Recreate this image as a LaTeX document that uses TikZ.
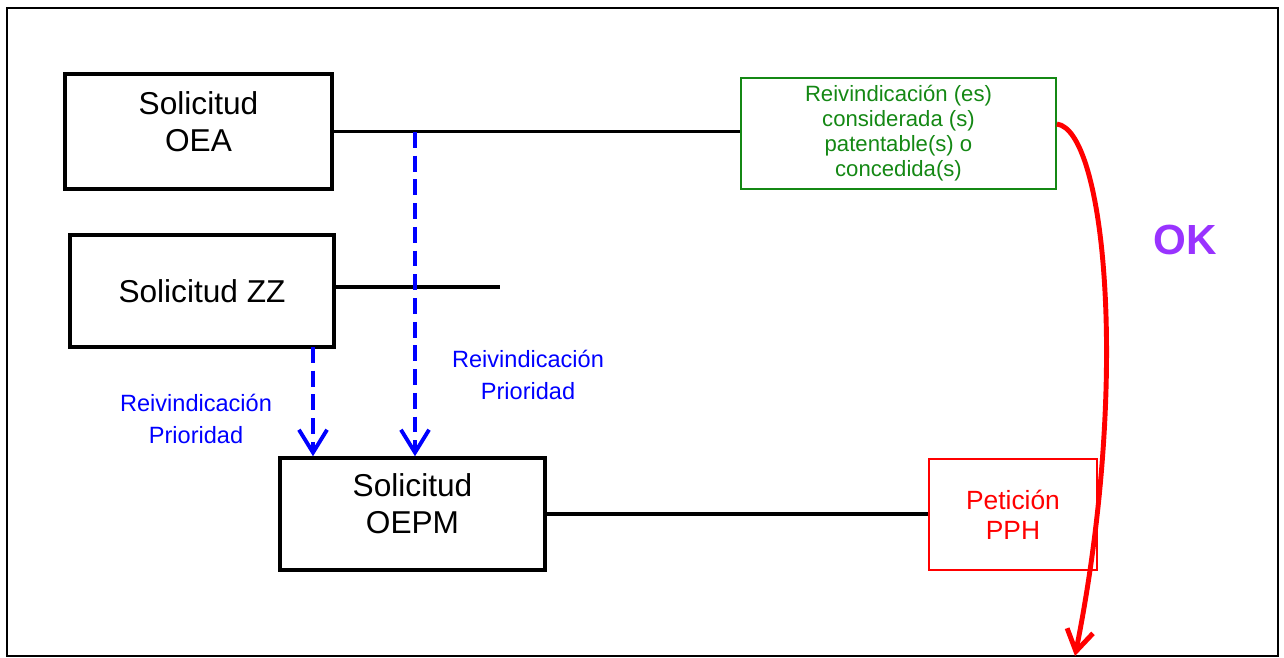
\documentclass[tikz,border=0pt]{standalone}
\usepackage{fontspec}
\setmainfont{Liberation Sans}
\usetikzlibrary{calc}
\usetikzlibrary{arrows.meta}
\definecolor{okpurple}{RGB}{153,51,255}
\definecolor{reigreen}{RGB}{20,136,20}
\tikzset{
    solbox/.style={draw, line width=2pt, inner sep=0pt},
    soltext/.style={align=center, inner sep=0pt, font=\fontsize{18}{21}\selectfont},
    conn/.style={line width=1.8pt},
    prio/.style={blue, line width=2.2pt, dash pattern=on 9pt off 4.5pt, -{Straight Barb[length=13pt, width=16pt]}},
    priotext/.style={blue, align=center, font=\fontsize{13.4}{18}\selectfont}
}

\begin{document}
\begin{tikzpicture}[x=0.02cm, y=-0.02cm]
\useasboundingbox (0,0) rectangle (1284,657);
\draw[line width=1.3pt] (7,8) rectangle (1278,656);
\foreach \x/\y/\w/\h/\n in {198.5/131.5/5.34/2.30/oea, 202/291/5.28/2.24/zz, 412.5/514/5.30/2.24/oepm}{
    \node[solbox, minimum width=\w cm, minimum height=\h cm] (\n) at (\x,\y) {};
}
\node[soltext] at ($(oea)+(0,-10)$) {Solicitud\\OEA};
\node[soltext] at (zz) {Solicitud ZZ};
\node[soltext] at ($(oepm)+(0,-10)$) {Solicitud\\OEPM};
\node[draw=reigreen, line width=1pt, text=reigreen, align=center, inner sep=0pt, minimum width=6.30cm, minimum height=2.22cm, font=\fontsize{12.6}{14.2}\selectfont] (rei) at (898.5,133.5) {Reivindicación (es)\\considerada (s)\\patentable(s) o\\concedida(s)};
\node[draw=red, line width=1pt, text=red, align=center, inner sep=0pt, minimum width=3.36cm, minimum height=2.22cm, font=\fontsize{15}{17}\selectfont] (pph) at (1013,514.5) {Petición\\PPH};
\coordinate (tap) at (415,132);
\coordinate (zzend) at (500,287);
\coordinate (zzfoot) at (313,347);
\coordinate (okend) at (1075,656);
\draw[conn] (oea.east) -- (rei.west |- oea.east);
\draw[conn] (zz.east |- zzend) -- (zzend);
\draw[conn] (oepm.east) -- (pph.west |- oepm.east);
\draw[prio] (tap) -- (tap |- oepm.north);
\draw[prio] (zzfoot) -- (zzfoot |- oepm.north);
\node[priotext] at (528,375) {Reivindicación\\Prioridad};
\node[priotext] at (196,419) {Reivindicación\\Prioridad};
\draw[red, line width=2.8pt, -{Straight Barb[length=12pt, width=15pt]}] ([yshift=0.19cm]rei.east) .. controls (1105,130) and (1130,380) .. (okend);
\node[text=okpurple, font=\bfseries\fontsize{24}{28}\selectfont] at (1185,240) {OK};
\end{tikzpicture}
\end{document}
